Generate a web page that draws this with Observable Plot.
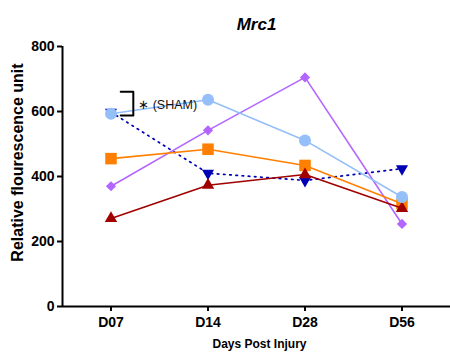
<!DOCTYPE html>
<html>
<head>
<meta charset="utf-8">
<script src="https://cdn.jsdelivr.net/npm/d3@7"></script>
<script src="https://cdn.jsdelivr.net/npm/@observablehq/plot@0.6"></script>
<style>
  html, body { margin: 0; padding: 0; background: #fff; }
  #chart svg { display: block; font-family: "Liberation Sans", Arial, sans-serif; }
</style>
</head>
<body>
<div id="chart"></div>
<script>
// Time points (days post injury)
const days = ["D07", "D14", "D28", "D56"];

// Relative fluorescence per group
const shamValues   = [598, 410, 388, 424];
const purpleValues = [370, 542, 705, 254];
const orangeValues = [455, 484, 434, 316];
const redValues    = [271, 373, 406, 302];
const blueValues   = [593, 636, 511, 337];

const yTicks = [0, 200, 400, 600, 800];

// Downward-pointing triangle symbol
const triangleDown = {
  draw(context, size) {
    const y = -Math.sqrt(size / (Math.sqrt(3) * 3));
    context.moveTo(0, -y * 2);
    context.lineTo(-Math.sqrt(3) * y, y);
    context.lineTo(Math.sqrt(3) * y, y);
    context.closePath();
  }
};

const series = [
  {values: shamValues, color: "#0000b4", symbol: triangleDown, dash: "1.6,4.6", r: 4.5},
  {values: purpleValues, color: "#b266ff", symbol: "diamond2", dash: null, r: 4.6},
  {values: orangeValues, color: "#ff8000", symbol: "square", dash: null, r: 6.5},
  {values: redValues, color: "#a00000", symbol: "triangle", dash: null, r: 4.6},
  {values: blueValues, color: "#94bff8", symbol: "circle", dash: null, r: 6}
];

const marks = [];
for (const s of series) {
  const rows = s.values.map((v, i) => ({i, v}));
  marks.push(Plot.line(rows, {
    x: "i", y: "v", stroke: s.color, strokeWidth: s.dash ? 1.7 : 1.6,
    strokeDasharray: s.dash
  }));
  marks.push(Plot.dot(rows, {
    x: "i", y: "v", symbol: s.symbol, r: s.r, fill: s.color, stroke: "none"
  }));
}

// Significance bracket next to the first time point
const bracket = [{x: 0.1, y: 661}, {x: 0.23, y: 661}, {x: 0.23, y: 588}, {x: 0.1, y: 588}];
marks.push(Plot.line(bracket, {x: "x", y: "y", stroke: "#000", strokeWidth: 2}));
marks.push(Plot.text(["∗ (SHAM)"], {x: 0.28, y: 621, fontSize: 12.5, textAnchor: "start", fill: "#111"}));

// Axes
marks.push(Plot.axisY({
  ticks: yTicks, tickSize: 5, tickPadding: 3, strokeWidth: 2,
  fontSize: 14, fontWeight: "bold", label: null, color: "#000"
}));
marks.push(Plot.axisX({
  ticks: [0, 1, 2, 3], tickFormat: i => days[i], tickSize: 5, tickPadding: 6, strokeWidth: 2,
  fontSize: 14, fontWeight: "bold", label: null, color: "#000"
}));
marks.push(Plot.ruleX([-0.5], {stroke: "#000", strokeWidth: 2}));
marks.push(Plot.ruleY([0], {stroke: "#000", strokeWidth: 2}));

// Titles
marks.push(Plot.text(["Mrc1"], {frameAnchor: "top", dy: -29, fontSize: 17, fontWeight: "bold", fontStyle: "italic", fill: "#000"}));
marks.push(Plot.text(["Relative flourescence unit"], {frameAnchor: "left", textAnchor: "middle", dx: -45, dy: -14, rotate: -90, fontSize: 16, fontWeight: "bold", fill: "#000"}));
marks.push(Plot.text(["Days Post Injury"], {frameAnchor: "bottom", dx: 3, dy: 41, fontSize: 12, fontWeight: "bold", fill: "#000"}));

const chart = Plot.plot({
  width: 450,
  height: 354,
  marginLeft: 62,
  marginRight: 0,
  marginTop: 46,
  marginBottom: 48,
  style: {fontFamily: "'Liberation Sans', Arial, sans-serif", background: "#fff"},
  x: {type: "linear", domain: [-0.5, 3.5]},
  y: {domain: [0, 800]},
  marks
});
document.getElementById("chart").appendChild(chart);
</script>
</body>
</html>
